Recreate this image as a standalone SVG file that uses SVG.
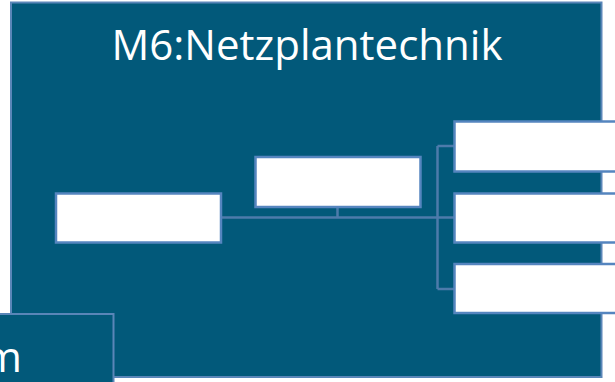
<svg xmlns="http://www.w3.org/2000/svg" width="615" height="382" viewBox="0 0 615 382">
<style>
.frame{fill:#02597a;stroke:#5a86b8;stroke-width:2}
.box{fill:#ffffff;stroke:#5585bf;stroke-width:2.5}
.conn{fill:none;stroke:#4d7bab;stroke-width:2.5}
.t{font-family:"Open Sans","Noto Sans",sans-serif;fill:#ffffff;font-size:42px}
</style>
<rect width="615" height="382" fill="#ffffff"/>
<g id="main">
<rect class="frame" x="11" y="2.5" width="590.5" height="374.5"/>
<text class="t" x="307" y="59.5" text-anchor="middle">M6:Netzplantechnik</text>
</g>
<g id="connectors">
<path class="conn" d="M221 217.5H454M437.5 146V289M437.5 146H454M437.5 289H454M337.5 207V217.5"/>
</g>
<g id="n-left"><rect class="box" x="56" y="193.5" width="165" height="49"/></g>
<g id="n-middle"><rect class="box" x="255.5" y="157" width="165" height="50"/></g>
<g id="n-right1"><rect class="box" x="454.5" y="121.5" width="200" height="50"/></g>
<g id="n-right2"><rect class="box" x="454.5" y="193.5" width="200" height="49"/></g>
<g id="n-right3"><rect class="box" x="454.5" y="264" width="200" height="49"/></g>
<g id="n-bottom">
<rect class="frame" x="-10" y="314" width="123.5" height="80"/>
<text class="t" x="22" y="372" text-anchor="end">m</text>
</g>
</svg>
